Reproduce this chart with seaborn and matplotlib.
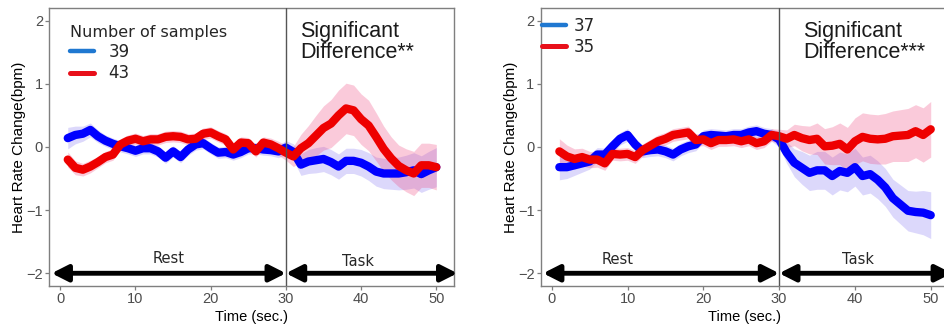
import matplotlib
matplotlib.use("Agg")
import matplotlib.pyplot as plt
import numpy as np
import pandas as pd
import seaborn as sns
from matplotlib.lines import Line2D

# ---------------- data ----------------
time = list(range(1, 51))

# left panel
left_labels = ["39", "43"]
left_blue_mean = [0.14, 0.19, 0.21, 0.27, 0.17, 0.10, 0.05, 0.01, -0.02, -0.06,
                  -0.02, -0.02, -0.07, -0.17, -0.07, -0.16, -0.04, 0.04, 0.06, -0.02,
                  -0.09, -0.08, -0.12, -0.08, -0.02, -0.02, -0.04, -0.05, -0.07, -0.01,
                  -0.08, -0.28, -0.23, -0.21, -0.19, -0.24, -0.31, -0.22, -0.22, -0.25,
                  -0.31, -0.39, -0.42, -0.42, -0.42, -0.40, -0.37, -0.43, -0.37, -0.32]
left_blue_se = [0.17, 0.14, 0.12, 0.11, 0.10, 0.09, 0.09, 0.09, 0.09, 0.09,
                0.09, 0.09, 0.09, 0.09, 0.09, 0.09, 0.09, 0.09, 0.09, 0.09,
                0.09, 0.09, 0.09, 0.09, 0.09, 0.09, 0.09, 0.09, 0.10, 0.11,
                0.13, 0.17, 0.19, 0.20, 0.20, 0.20, 0.20, 0.20, 0.20, 0.21,
                0.22, 0.23, 0.24, 0.25, 0.26, 0.27, 0.28, 0.29, 0.30, 0.31]
left_red_mean = [-0.20, -0.33, -0.36, -0.31, -0.24, -0.16, -0.12, 0.04, 0.10, 0.13,
                 0.09, 0.12, 0.12, 0.16, 0.17, 0.16, 0.12, 0.13, 0.21, 0.23,
                 0.17, 0.12, -0.04, 0.07, 0.06, -0.07, 0.07, 0.04, -0.02, -0.09,
                 -0.15, -0.02, 0.06, 0.18, 0.30, 0.37, 0.50, 0.61, 0.58, 0.44,
                 0.34, 0.16, -0.03, -0.18, -0.30, -0.37, -0.42, -0.29, -0.29, -0.32]
left_red_se = [0.12, 0.11, 0.10, 0.10, 0.09, 0.09, 0.09, 0.09, 0.09, 0.09,
               0.09, 0.09, 0.09, 0.09, 0.09, 0.09, 0.09, 0.09, 0.09, 0.09,
               0.09, 0.09, 0.09, 0.09, 0.09, 0.09, 0.09, 0.10, 0.11, 0.12,
               0.16, 0.22, 0.28, 0.32, 0.35, 0.38, 0.40, 0.40, 0.40, 0.40,
               0.40, 0.38, 0.36, 0.34, 0.33, 0.34, 0.35, 0.35, 0.35, 0.36]

# right panel
right_labels = ["37", "35"]
right_blue_mean = [-0.32, -0.32, -0.29, -0.26, -0.23, -0.12, -0.12, 0.01, 0.13, 0.19,
                   0.04, -0.07, -0.05, -0.04, -0.07, -0.12, -0.04, 0.01, 0.04, 0.17,
                   0.19, 0.18, 0.17, 0.19, 0.19, 0.23, 0.25, 0.21, 0.19, 0.12,
                   -0.09, -0.25, -0.33, -0.41, -0.37, -0.37, -0.46, -0.38, -0.41, -0.32,
                   -0.46, -0.43, -0.52, -0.64, -0.81, -0.91, -1.01, -1.03, -1.04, -1.08]
right_blue_se = [0.20, 0.18, 0.16, 0.14, 0.12, 0.11, 0.10, 0.10, 0.10, 0.10,
                 0.10, 0.10, 0.10, 0.10, 0.10, 0.10, 0.10, 0.10, 0.10, 0.10,
                 0.10, 0.10, 0.10, 0.10, 0.10, 0.10, 0.10, 0.10, 0.10, 0.12,
                 0.17, 0.22, 0.26, 0.28, 0.30, 0.30, 0.30, 0.30, 0.30, 0.30,
                 0.30, 0.30, 0.30, 0.30, 0.30, 0.31, 0.32, 0.33, 0.35, 0.37]
right_red_mean = [-0.07, -0.15, -0.19, -0.16, -0.20, -0.20, -0.26, -0.11, -0.12, -0.11,
                  -0.16, -0.05, 0.02, 0.09, 0.13, 0.19, 0.21, 0.23, 0.11, 0.12,
                  0.06, 0.11, 0.11, 0.12, 0.09, 0.12, 0.06, 0.09, 0.19, 0.17,
                  0.13, 0.19, 0.14, 0.11, 0.13, 0.01, 0.02, 0.05, -0.04, 0.09,
                  0.16, 0.13, 0.12, 0.13, 0.17, 0.18, 0.19, 0.25, 0.19, 0.28]
right_red_se = [0.20, 0.18, 0.16, 0.14, 0.13, 0.12, 0.11, 0.10, 0.10, 0.10,
                0.10, 0.10, 0.10, 0.10, 0.10, 0.10, 0.10, 0.10, 0.10, 0.10,
                0.10, 0.10, 0.10, 0.10, 0.10, 0.10, 0.10, 0.10, 0.10, 0.11,
                0.14, 0.17, 0.20, 0.22, 0.25, 0.28, 0.30, 0.33, 0.35, 0.37,
                0.38, 0.39, 0.39, 0.40, 0.40, 0.41, 0.42, 0.42, 0.43, 0.44]

x_ticks = [0, 10, 20, 30, 40, 50]
y_ticks = [-2, -1, 0, 1, 2]
annot_left = "Significant\nDifference**"
annot_right = "Significant\nDifference***"

# ---------------- style ----------------
sns.set_style("white")
plt.rcParams["font.family"] = ["Liberation Sans", "DejaVu Sans"]

LINE_BLUE = "#0000ff"
LINE_RED = "#ee0000"
RIB_BLUE = (0.39, 0.31, 0.94)
RIB_RED = (0.94, 0.24, 0.47)
LEG_BLUE = "#1f78d1"
LEG_RED = "#e8101a"
JP = "DejaVu Sans"

fig = plt.figure(figsize=(9.44, 3.24), dpi=100)
ax1 = fig.add_axes([0.0522, 0.1176, 0.4287, 0.8576])
ax2 = fig.add_axes([0.5728, 0.1176, 0.4320, 0.8576])


def draw_panel(ax, labels, bm, bse, rm, rse, annot, annot_x):
    t = np.array(time)
    bm_a, bse_a = np.array(bm), np.array(bse)
    rm_a, rse_a = np.array(rm), np.array(rse)
    ax.fill_between(t, bm_a - bse_a, bm_a + bse_a, color=RIB_BLUE, alpha=0.22, lw=0)
    ax.fill_between(t, rm_a - rse_a, rm_a + rse_a, color=RIB_RED, alpha=0.27, lw=0)
    df = pd.DataFrame({
        "Time": time + time,
        "HR": list(bm) + list(rm),
        "group": [labels[0]] * len(time) + [labels[1]] * len(time),
    })
    sns.lineplot(data=df, x="Time", y="HR", hue="group", hue_order=labels,
                 palette={labels[0]: LINE_BLUE, labels[1]: LINE_RED},
                 lw=6, legend=False, errorbar=None, ax=ax)
    ax.axvline(30, color="#555555", lw=1, zorder=3)

    ax.set_xlim(-1.46, 52.35)
    ax.set_ylim(-2.2, 2.2)
    ax.set_xticks(x_ticks)
    ax.set_yticks(y_ticks)
    ax.tick_params(axis="both", which="major", length=3, width=0.9, color="#7f7f7f",
                   labelcolor="#4d4d4d", labelsize=10.5, pad=1.5, bottom=True, left=True)
    for s in ax.spines.values():
        s.set_color("#7f7f7f")
        s.set_linewidth(1)
    ax.set_xlabel("Time (sec.)", fontsize=10.5, color="black", labelpad=3)
    ax.set_ylabel("Heart Rate Change(bpm)", fontsize=11, color="black", labelpad=0)

    # phase arrows
    arrow_kw = dict(arrowstyle="<|-|>,head_length=0.75,head_width=0.38",
                    color="black", lw=3.5, shrinkA=0, shrinkB=0, mutation_scale=13)
    ax.annotate("", xy=(30, -2), xytext=(-1.15, -2), arrowprops=arrow_kw,
                annotation_clip=False)
    ax.annotate("", xy=(52.8, -2), xytext=(30, -2), arrowprops=arrow_kw,
                annotation_clip=False)

    ax.text(annot_x, 2.0, annot, ha="left", va="top", fontsize=15.5,
            linespacing=1.05, color="#1a1a1a")


draw_panel(ax1, left_labels, left_blue_mean, left_blue_se, left_red_mean, left_red_se,
           annot_left, 31.9)
draw_panel(ax2, right_labels, right_blue_mean, right_blue_se, right_red_mean, right_red_se,
           annot_right, 33.2)

ax1.text(14.4, -1.77, "Rest", ha="center", va="center", family=JP, fontsize=10.5)
ax1.text(39.6, -1.81, "Task", ha="center", va="center", family=JP, fontsize=10.5)
ax2.text(8.7, -1.78, "Rest", ha="center", va="center", family=JP, fontsize=10.5)
ax2.text(40.4, -1.78, "Task", ha="center", va="center", family=JP, fontsize=10.5)

# legends
h1 = [Line2D([], [], color=LEG_BLUE, lw=3.2), Line2D([], [], color=LEG_RED, lw=3.6)]
leg1 = ax1.legend(handles=h1, labels=left_labels, title="Number of samples",
                  loc="upper left", bbox_to_anchor=(0.052, 0.94), frameon=False,
                  prop={"family": JP, "size": 12},
                  title_fontproperties={"family": JP, "size": 11.5},
                  handlelength=1.4, handletextpad=0.9, labelspacing=0.2,
                  borderpad=0, borderaxespad=0, alignment="left")

h2 = [Line2D([], [], color=LEG_BLUE, lw=3.2), Line2D([], [], color=LEG_RED, lw=3.6)]
leg2 = ax2.legend(handles=h2, labels=right_labels,
                  loc="upper left", bbox_to_anchor=(0.004, 0.968), frameon=False,
                  prop={"family": JP, "size": 12},
                  handlelength=1.4, handletextpad=0.5, labelspacing=0.2,
                  borderpad=0, borderaxespad=0)

fig.savefig("out.png", dpi=100)
